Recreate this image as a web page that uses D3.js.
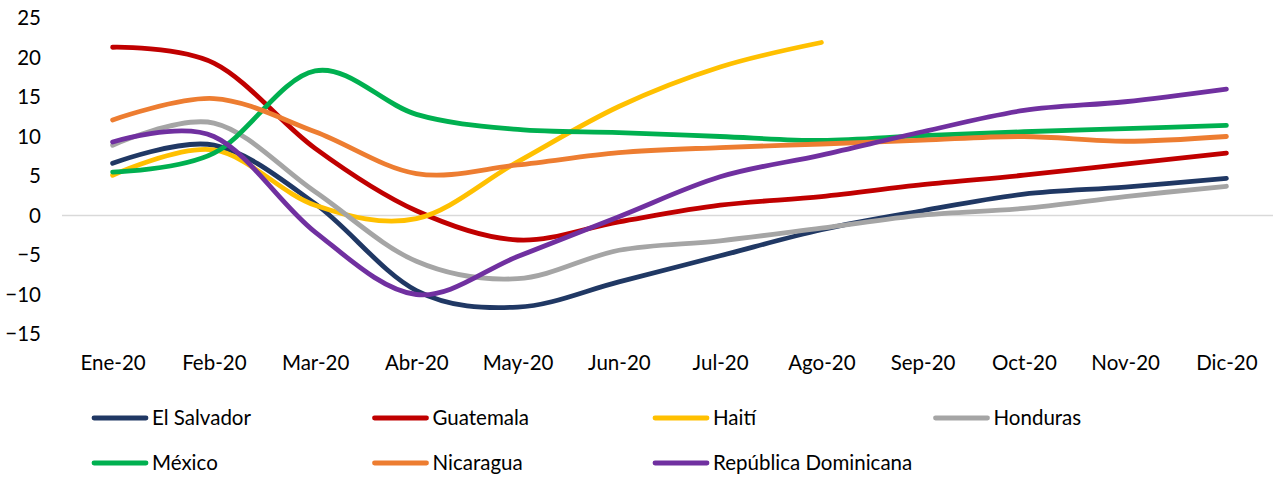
<!DOCTYPE html>
<html>
<head>
<meta charset="utf-8">
<script src="https://cdn.jsdelivr.net/npm/d3@7/dist/d3.min.js"></script>
<style>
  html, body { margin: 0; padding: 0; background: #fff; }
  svg { display: block; font-family: Lato, "Open Sans", sans-serif; }
</style>
</head>
<body>
<svg id="chart" width="1273" height="478"></svg>
<script>
// Months on the x axis
const months = ["Ene-20","Feb-20","Mar-20","Abr-20","May-20","Jun-20","Jul-20","Ago-20","Sep-20","Oct-20","Nov-20","Dic-20"];

// Values by country (Haití stops at Ago-20)
const elSalvador = [6.6, 8.9, 1.5, -9.5, -11.6, -8.4, -5.1, -1.8, 0.6, 2.7, 3.6, 4.7];
const guatemala  = [21.3, 19.3, 8.5, 0.6, -3.1, -0.8, 1.3, 2.4, 3.9, 5.1, 6.5, 7.9];
const haiti      = [5.1, 8.3, 1.3, -0.4, 6.8, 13.8, 18.8, 21.9];
const honduras   = [8.9, 11.7, 3.0, -5.8, -8.0, -4.4, -3.2, -1.6, 0.05, 0.9, 2.4, 3.7];
const mexico     = [5.5, 7.9, 18.3, 12.8, 10.9, 10.5, 10.0, 9.5, 10.1, 10.6, 11.0, 11.4];
const nicaragua  = [12.1, 14.8, 10.6, 5.3, 6.4, 7.95, 8.6, 9.05, 9.55, 10.0, 9.4, 10.0];
const repDom     = [9.3, 10.0, -2.1, -10.0, -5.2, -0.15, 4.9, 7.65, 10.6, 13.3, 14.4, 16.0];

const seriesNames = ["El Salvador","Guatemala","Haití","Honduras","México","Nicaragua","República Dominicana"];
const seriesValues = [elSalvador, guatemala, haiti, honduras, mexico, nicaragua, repDom];
const seriesColors = ["#203864","#C00000","#FFC000","#A5A5A5","#00B050","#ED7D31","#7030A0"];

const yTicks = [-15, -10, -5, 0, 5, 10, 15, 20, 25];

const svg = d3.select("#chart");

const x = d3.scalePoint().domain(months).range([62, 1277]).padding(0.5);
const y = d3.scaleLinear().domain([-15, 25]).range([334, 18]);

// Zero reference line
svg.append("line")
  .attr("x1", 62).attr("x2", 1273)
  .attr("y1", y(0)).attr("y2", y(0))
  .attr("stroke", "#d9d9d9").attr("stroke-width", 1.5);

// Y axis labels
const yAxis = d3.axisLeft(y).tickValues(yTicks).tickSize(0).tickPadding(0).tickFormat(d3.format("d"));
const gy = svg.append("g").attr("transform", "translate(41,0)").call(yAxis);
gy.select(".domain").remove();
gy.selectAll("text").attr("font-size", 20.5).attr("fill", "#000").attr("font-family", "Lato, sans-serif");

// X axis labels
const xAxis = d3.axisBottom(x).tickSize(0).tickPadding(0);
const gx = svg.append("g").attr("transform", "translate(0,355)").call(xAxis);
gx.select(".domain").remove();
gx.selectAll("text").attr("font-size", 20.5).attr("fill", "#000").attr("font-family", "Lato, sans-serif");

// Smoothed lines
const line = d3.line()
  .x((d, i) => x(months[i]))
  .y(d => y(d))
  .curve(d3.curveCardinal.tension(0));

svg.append("g").selectAll("path")
  .data(seriesValues)
  .join("path")
  .attr("d", d => line(d))
  .attr("fill", "none")
  .attr("stroke", (d, i) => seriesColors[i])
  .attr("stroke-width", 4.8)
  .attr("stroke-linecap", "round")
  .attr("stroke-linejoin", "round");

// Legend: two rows, four columns
const legend = svg.append("g");
seriesNames.forEach((name, i) => {
  const col = i % 4, row = Math.floor(i / 4);
  const lx = 94 + col * 280.5, ly = 418 + row * 45;
  const g = legend.append("g").attr("transform", `translate(${lx},${ly})`);
  g.append("line")
    .attr("x1", 0).attr("x2", 52).attr("y1", 0).attr("y2", 0)
    .attr("stroke", seriesColors[i]).attr("stroke-width", 4.8)
    .attr("stroke-linecap", "round");
  g.append("text")
    .attr("x", 58).attr("y", 0).attr("dy", "0.35em")
    .attr("font-size", 20.5).attr("fill", "#000")
    .text(name);
});
</script>
</body>
</html>
